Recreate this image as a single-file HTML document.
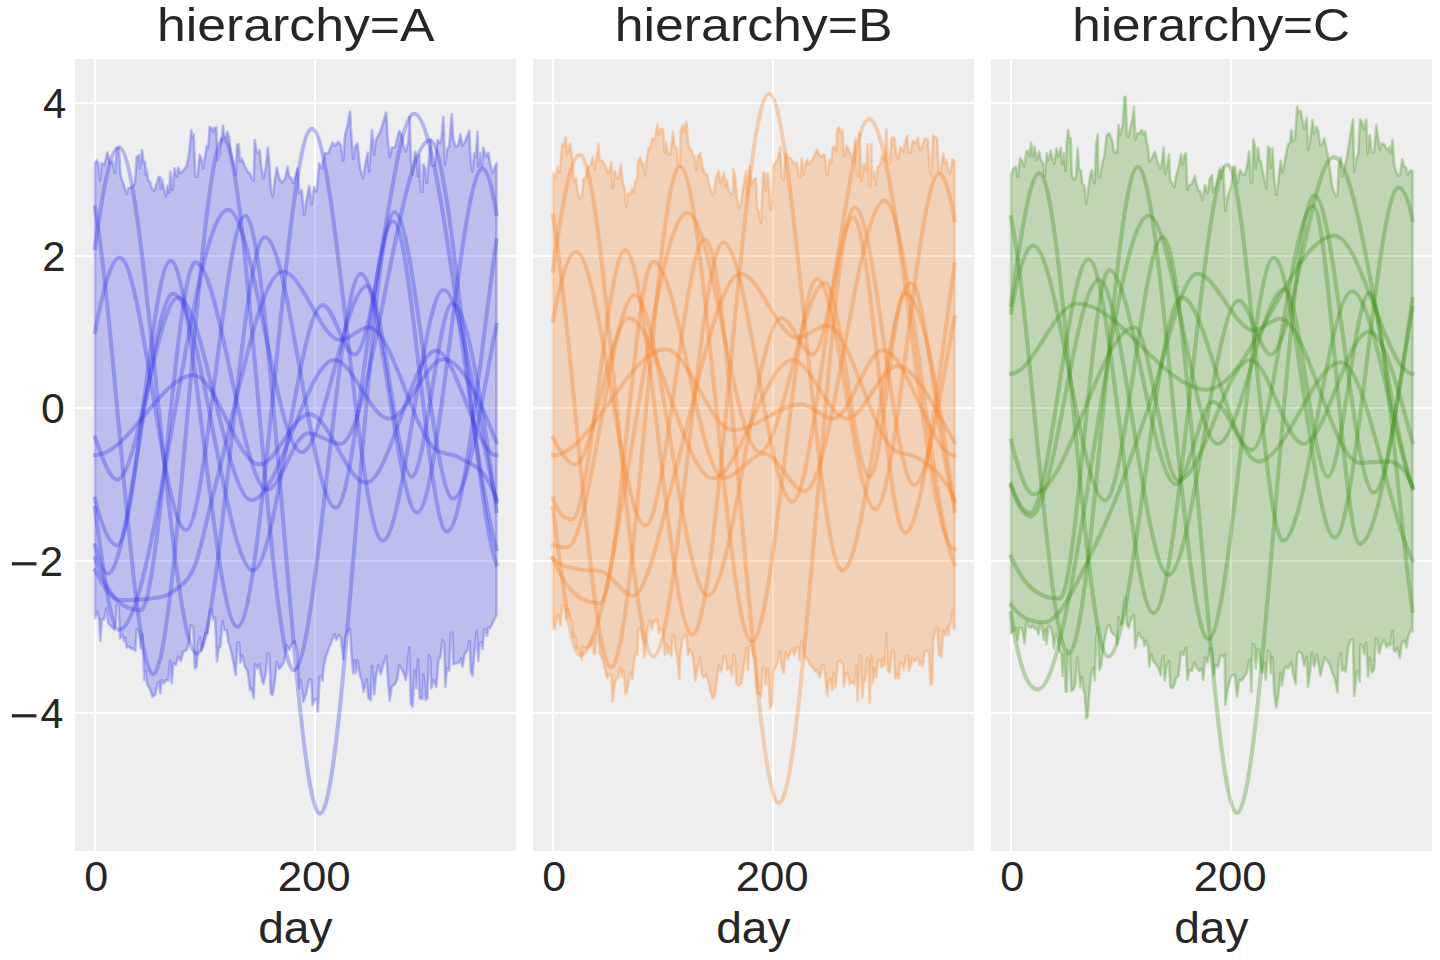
<!DOCTYPE html><html><head><meta charset="utf-8"><title>chart</title><style>html,body{margin:0;padding:0;background:#fff}svg{display:block}text{font-family:"Liberation Sans",sans-serif;fill:#262626}</style></head><body>
<svg width="1440" height="960" viewBox="0 0 1440 960">
<rect width="1440" height="960" fill="#fff"/>
<g>
<rect x="75" y="59" width="441" height="792" fill="#eeeeee"/>
<path d="M95.0 59 V851M315.0 59 V851M75 103 H516M75 256 H516M75 408 H516M75 561 H516M75 713 H516" stroke="#fff" stroke-width="2.2" fill="none"/>
<path d="M95.0 163.3L96.7 160.0L98.3 163.3L100.0 180.8L101.7 163.3L104.2 165.0L107.5 152.5L110.0 163.3L112.5 161.7L115.0 173.3L116.7 148.3L118.7 148.3L120.8 176.7L123.3 183.3L126.7 194.2L128.3 188.3L132.5 186.7L135.0 183.3L136.7 156.7L139.2 155.0L140.0 168.3L142.0 150.0L143.7 163.3L145.0 161.7L145.8 175.0L146.7 170.0L148.3 180.8L150.0 181.7L151.7 188.3L154.2 190.8L156.7 183.3L158.3 177.5L160.0 176.7L160.8 189.2L162.0 179.2L164.2 190.0L165.8 196.7L167.5 185.8L169.2 192.5L170.3 171.7L172.5 190.0L174.5 168.3L176.7 176.7L178.3 167.5L180.0 173.3L183.3 170.8L186.7 165.8L189.2 153.3L191.2 130.0L192.5 137.5L193.7 134.2L195.3 176.7L197.5 176.7L199.7 155.0L201.7 160.0L203.3 168.3L206.7 145.8L208.3 147.5L209.7 126.7L211.7 128.3L213.0 131.7L214.2 128.3L216.3 127.5L217.5 160.0L219.2 156.7L221.7 138.3L223.0 125.8L224.2 135.0L225.8 137.5L227.5 131.7L229.2 138.3L230.8 151.7L235.8 175.0L237.0 145.0L238.7 144.2L240.0 161.7L241.7 158.3L245.0 166.7L248.3 172.5L250.0 173.3L251.7 178.3L253.7 180.8L254.7 140.0L256.7 151.7L258.3 153.3L259.7 150.0L261.3 166.7L263.3 178.3L265.8 168.3L267.8 147.5L269.2 161.7L270.8 188.3L272.5 196.7L274.2 185.0L276.7 167.5L279.2 178.3L281.7 182.5L285.0 179.2L287.5 166.7L289.2 176.7L290.8 177.5L293.3 183.3L297.5 168.3L299.2 193.3L301.7 190.0L304.2 215.0L306.7 199.2L309.2 185.8L311.7 205.0L314.2 186.7L316.7 191.7L319.2 163.3L321.7 168.3L325.0 153.3L328.3 153.3L332.5 142.5L335.0 145.8L338.3 141.7L340.8 145.0L343.3 160.8L345.0 135.0L347.5 125.8L350.0 111.7L351.7 140.0L353.3 159.2L355.0 146.7L357.5 143.3L360.0 168.3L363.0 178.3L365.8 161.7L367.8 152.5L369.2 171.7L372.0 130.0L374.2 155.0L375.8 140.0L380.0 132.5L386.2 112.5L387.5 136.7L389.7 157.5L391.7 147.5L395.0 147.5L399.2 130.8L401.7 135.0L403.3 145.0L405.8 151.7L408.3 141.7L409.7 116.7L410.8 156.7L412.5 175.0L415.0 151.7L416.7 156.7L418.0 176.7L419.2 155.0L420.8 191.7L422.5 191.7L423.3 164.2L425.0 168.3L426.7 183.3L428.3 166.7L430.8 140.0L431.7 165.8L435.0 165.0L437.5 140.0L440.0 143.3L441.7 136.7L443.3 116.7L445.0 165.0L447.5 148.3L449.2 146.7L451.7 114.2L453.3 140.0L455.8 146.7L458.3 145.0L460.3 134.2L462.5 145.8L465.0 141.7L469.2 130.8L470.8 161.7L472.5 171.7L474.2 153.3L475.8 156.7L477.5 131.7L478.3 166.7L480.0 153.3L481.7 166.7L483.3 147.5L485.8 156.7L488.3 152.5L490.0 163.3L492.5 173.3L495.0 166.7L496.5 163.3L496.5 615.0L490.0 628.3L488.3 627.5L487.0 635.8L485.8 630.0L484.2 629.2L482.5 649.2L481.7 642.5L479.7 643.3L478.3 660.8L476.7 630.8L474.2 655.0L472.5 675.8L470.8 671.7L469.5 640.8L467.5 650.0L464.7 654.2L462.5 666.7L460.8 658.3L459.2 662.5L455.8 663.3L453.3 664.2L452.5 633.3L450.8 632.5L449.2 670.8L447.0 668.3L445.3 686.7L444.2 643.3L442.5 640.0L440.3 658.3L438.7 658.3L436.3 686.7L433.3 680.0L431.3 688.3L430.3 658.3L428.8 655.0L427.5 698.3L425.8 700.0L423.3 674.2L422.5 699.2L419.7 698.3L418.0 659.2L416.3 688.3L414.7 670.0L412.5 706.7L410.8 703.3L409.2 647.5L407.0 671.7L405.8 680.0L404.2 675.0L402.5 670.8L399.2 665.0L397.5 678.3L395.0 684.2L391.7 686.7L389.7 700.8L388.0 680.0L386.3 655.8L383.3 664.2L380.8 674.2L378.3 665.0L375.8 678.3L374.2 694.2L372.0 665.8L370.8 700.0L368.3 698.3L366.7 679.2L363.7 691.7L361.7 680.0L360.0 675.8L357.5 660.0L355.8 673.3L354.7 660.0L353.3 673.3L351.7 656.7L350.0 629.2L347.5 630.8L345.0 637.5L343.3 659.2L340.8 637.5L338.7 635.0L336.3 640.0L334.5 634.2L332.5 639.2L329.2 647.5L325.8 656.7L323.7 666.7L322.5 680.8L321.3 675.8L319.7 676.7L317.8 711.7L316.7 699.2L314.7 699.2L312.5 705.0L311.3 680.0L309.2 679.2L305.8 695.0L303.3 701.7L300.8 680.0L299.2 688.3L297.5 651.7L294.7 641.7L291.7 644.2L289.2 650.0L286.7 645.0L284.2 661.7L281.7 665.8L279.2 669.2L276.7 661.7L275.0 680.0L272.5 695.0L270.8 693.3L269.2 654.2L267.5 653.3L265.8 673.3L263.3 684.2L261.7 678.3L259.2 664.2L257.5 668.3L255.0 664.2L253.7 698.3L251.7 688.3L250.0 690.0L247.5 670.8L245.0 666.7L242.5 655.8L240.3 662.5L239.2 643.3L237.5 642.5L235.8 675.0L233.3 661.7L230.8 650.0L228.3 641.7L226.7 630.0L224.2 630.0L222.5 620.8L220.3 646.7L218.7 648.3L217.0 661.7L215.0 617.5L213.3 620.0L211.7 609.2L210.0 610.0L207.5 633.3L205.3 633.3L203.3 644.2L201.3 650.8L200.0 637.5L198.3 643.3L196.7 666.7L194.7 668.3L193.3 626.7L190.8 625.0L189.2 641.7L186.7 650.0L183.3 651.7L180.8 660.8L178.3 656.7L175.8 665.0L173.3 663.3L171.7 683.3L170.0 660.8L168.3 680.8L165.8 680.0L164.2 683.3L161.7 680.0L160.3 693.3L159.2 681.7L157.5 684.2L155.0 695.0L152.5 696.7L150.8 691.7L149.2 687.5L147.0 684.2L145.8 670.8L144.2 680.0L142.5 634.2L140.8 648.3L139.2 631.7L136.7 629.2L135.3 650.8L133.3 648.3L131.7 649.2L129.2 646.7L126.7 647.5L125.0 637.5L123.7 640.8L122.5 635.0L120.0 638.3L118.7 606.7L116.7 605.0L115.8 621.7L114.2 630.0L110.8 625.8L108.3 623.3L106.3 608.3L104.2 619.2L101.7 620.0L100.3 640.8L99.2 620.0L97.5 611.7L95.0 618.3Z" fill="#2a2eec" fill-opacity="0.25" stroke="#2a2eec" stroke-opacity="0.28" stroke-width="2.6" stroke-linejoin="round"/>
<g fill="none" stroke="#2a2eec" stroke-opacity="0.3" stroke-width="4.1" stroke-linecap="square">
<path d="M95.0 207.5C114.4 318.7 133.7 674.1 153.1 674.1C176.5 674.1 200.0 138.8 223.5 138.8C246.9 138.8 270.3 670.3 293.8 670.3C316.2 670.3 338.6 273.8 361.0 273.8C379.7 273.8 398.5 512.5 417.2 512.5C439.0 512.5 460.9 168.6 482.8 168.6C487.3 168.6 491.9 185.1 496.5 214.3"/>
<path d="M95.0 247.9C102.9 189.7 110.8 147.2 118.8 147.2C144.8 147.2 170.8 653.5 196.9 653.5C219.6 653.5 242.3 237.2 265.0 237.2C288.6 237.2 312.2 507.9 335.9 507.9C355.0 507.9 374.0 221.2 393.1 221.2C411.0 221.2 429.0 531.5 446.9 531.5C463.4 531.5 480.0 357.1 496.5 240.2"/>
<path d="M95.0 498.7C102.4 528.8 109.8 545.2 117.2 545.2C134.9 545.2 152.6 260.8 170.4 260.8C192.7 260.8 215.1 626.8 237.5 626.8C262.3 626.8 287.1 128.9 311.9 128.9C335.5 128.9 359.1 540.7 382.8 540.7C403.1 540.7 423.4 289.8 443.7 289.8C461.3 289.8 478.9 432.8 496.5 501.8"/>
<path d="M95.0 455.3C127.9 455.3 160.9 375.2 193.8 375.2C215.6 375.2 237.5 464.4 259.3 464.4C276.1 464.4 292.8 414.1 309.5 414.1C328.3 414.1 347.2 482.7 366.0 482.7C389.4 482.7 412.7 350.8 436.0 350.8C456.2 350.8 476.3 455.3 496.5 455.3"/>
<path d="M95.0 558.2C110.2 603.1 125.4 610.1 140.7 610.1C158.9 610.1 177.1 262.4 195.3 262.4C219.3 262.4 243.2 489.6 267.1 489.6C280.7 489.6 294.3 433.2 307.9 433.2C318.8 433.2 329.7 443.8 340.6 443.8C370.3 443.8 400.0 140.4 429.7 140.4C452.0 140.4 474.2 506.3 496.5 564.3"/>
<path d="M95.0 331.8C103.2 289.3 111.4 257.8 119.6 257.8C141.8 257.8 163.9 530.0 186.0 530.0C205.7 530.0 225.5 215.8 245.3 215.8C270.2 215.8 295.1 813.7 320.0 813.7C344.8 813.7 369.6 212.0 394.4 212.0C414.0 212.0 433.6 498.7 453.2 498.7C467.6 498.7 482.1 396.6 496.5 324.9"/>
<path d="M95.0 507.9C102.9 568.3 110.8 629.9 118.8 629.9C155.2 629.9 191.7 209.8 228.1 209.8C252.6 209.8 277.1 452.2 301.6 452.2C323.4 452.2 345.3 286.0 367.1 286.0C382.0 286.0 396.9 476.6 411.8 476.6C425.3 476.6 438.7 303.5 452.2 303.5C466.9 303.5 481.7 399.3 496.5 510.9"/>
<path d="M95.0 545.2C99.3 562.0 103.5 573.5 107.8 573.5C129.7 573.5 151.5 293.6 173.4 293.6C200.0 293.6 226.5 570.4 253.1 570.4C276.3 570.4 299.5 305.1 322.7 305.1C333.3 305.1 344.0 354.6 354.6 354.6C374.4 354.6 394.2 113.7 414.0 113.7C441.5 113.7 469.0 451.4 496.5 549.1"/>
<path d="M95.0 437.7C102.4 457.4 109.8 479.7 117.2 479.7C137.5 479.7 157.8 297.4 178.2 297.4C202.6 297.4 227.1 500.3 251.5 500.3C279.1 500.3 306.8 360.0 334.4 360.0C352.6 360.0 370.8 418.7 389.0 418.7C407.3 418.7 425.5 359.2 443.7 359.2C461.3 359.2 478.9 398.0 496.5 442.3"/>
<path d="M95.0 570.4C103.3 586.4 111.6 600.1 120.0 600.1C130.0 600.1 140.0 599.9 150.0 598.6C158.3 597.5 166.6 597.3 175.0 590.2C181.6 584.6 188.3 582.5 195.0 565.1C201.3 548.7 207.5 515.3 213.8 491.9C236.8 405.8 259.8 271.5 282.8 271.5C301.9 271.5 321.1 340.1 340.3 340.1C349.8 340.1 359.3 327.2 368.8 327.2C391.2 327.2 413.6 434.0 436.0 449.9C443.7 455.4 451.4 452.7 459.1 457.6C471.6 465.4 484.0 463.8 496.5 499.5"/>
</g>
</g>
<g>
<rect x="533" y="59" width="441" height="792" fill="#eeeeee"/>
<path d="M553.0 59 V851M773.0 59 V851M533 103 H974M533 256 H974M533 408 H974M533 561 H974M533 713 H974" stroke="#fff" stroke-width="2.2" fill="none"/>
<path d="M553.0 172.5L555.5 178.3L558.0 166.7L559.7 172.5L562.2 144.2L563.8 146.7L565.5 136.7L567.2 154.2L570.0 143.3L572.2 158.3L573.8 181.7L576.0 178.3L578.0 193.3L580.0 199.2L582.2 195.0L583.3 179.2L585.5 178.3L588.0 166.7L590.5 165.8L592.7 156.7L594.7 169.2L597.2 153.3L598.5 144.2L599.7 160.0L602.2 160.8L605.5 165.8L608.0 173.3L609.7 170.0L611.3 161.7L612.7 188.3L614.7 170.8L617.2 178.3L618.8 178.3L620.8 164.2L623.0 184.2L624.7 188.3L626.3 206.7L628.0 193.3L630.5 194.2L632.2 188.3L633.8 193.3L635.0 181.7L637.2 179.2L638.0 162.5L640.0 157.5L642.2 165.0L643.3 163.3L644.7 175.8L647.2 156.7L648.3 148.3L650.5 147.5L652.2 138.3L654.7 139.2L657.5 124.2L658.8 135.0L660.5 129.2L663.0 129.2L664.7 153.3L666.0 141.7L668.0 154.2L670.5 154.2L673.0 131.7L674.7 146.7L676.7 148.3L678.3 165.8L679.7 166.7L680.8 130.0L683.0 125.0L683.8 131.7L686.3 121.7L687.7 137.5L688.8 146.7L691.3 150.0L693.3 155.8L694.7 156.7L696.0 170.8L698.0 155.8L700.2 153.3L702.2 166.7L704.7 173.3L707.2 175.0L709.7 186.7L712.2 195.0L713.8 193.3L716.3 176.7L718.8 170.8L720.5 183.3L722.2 178.3L724.2 172.5L725.5 186.7L726.7 180.0L728.8 190.0L731.3 194.2L733.0 193.3L733.5 169.2L735.5 180.0L737.2 200.0L739.3 208.3L741.3 202.5L743.3 186.7L746.3 170.8L747.7 195.0L749.7 166.7L751.3 185.0L753.0 180.0L756.0 178.3L757.2 208.3L758.8 211.7L761.0 223.3L763.0 172.5L765.0 173.3L765.8 190.8L768.0 173.3L770.5 210.0L772.2 204.2L773.3 165.0L775.5 163.3L778.0 158.3L780.2 146.7L781.7 176.7L783.8 180.0L785.5 153.3L788.0 157.5L790.5 158.3L793.0 161.7L795.0 165.0L796.7 162.5L798.8 175.8L800.5 176.7L801.7 158.3L803.8 174.2L805.5 165.0L807.2 159.2L808.8 164.2L811.3 161.7L813.8 156.7L816.3 150.8L817.2 149.2L818.8 155.0L821.3 156.7L823.0 155.0L825.0 155.8L826.3 172.5L827.7 175.0L829.3 159.2L831.3 163.3L832.7 147.5L835.5 146.7L836.3 151.7L837.2 129.2L839.3 127.5L840.5 133.3L842.5 130.0L843.8 155.8L845.5 155.0L846.7 145.8L848.8 150.0L851.3 155.8L852.7 162.5L855.5 138.3L856.7 175.8L858.3 176.7L859.7 133.3L861.3 181.7L863.0 170.8L864.3 163.3L866.0 170.8L867.7 144.2L869.3 186.7L870.5 187.5L871.3 144.2L872.2 178.3L874.7 171.7L876.3 185.8L877.7 166.7L880.5 164.2L881.7 155.8L884.7 159.2L886.3 129.2L887.7 161.7L889.7 163.3L891.7 137.5L894.3 137.5L896.3 153.3L898.0 159.2L900.5 146.7L903.0 151.7L905.0 142.5L907.2 135.8L908.3 152.5L910.5 152.5L912.7 140.8L915.5 143.3L918.0 138.3L919.7 149.2L921.3 150.0L924.7 138.3L928.0 140.0L929.7 170.0L931.3 175.8L933.0 135.8L935.5 137.5L937.2 138.3L938.8 171.7L940.5 173.3L943.3 153.3L944.7 163.3L946.3 160.0L948.3 170.0L950.0 173.3L952.7 159.2L954.3 161.7L954.5 173.3L954.5 629.2L953.8 628.3L952.7 610.0L951.3 622.5L949.7 624.2L948.3 635.0L947.2 627.5L945.5 635.8L943.3 630.8L941.3 656.7L938.8 654.2L937.7 628.3L936.3 627.5L933.3 638.3L932.2 683.3L930.5 685.0L929.3 656.7L928.0 650.0L924.7 651.7L922.7 665.8L921.3 661.7L919.7 665.0L918.0 657.5L914.7 661.7L912.2 658.3L911.0 665.0L908.8 670.8L908.0 655.8L906.3 655.8L903.8 670.0L902.2 663.3L900.0 662.5L898.8 678.3L897.2 674.2L895.5 678.3L893.8 651.7L892.2 650.0L889.7 672.5L887.7 670.0L886.3 632.5L884.7 665.8L883.0 658.3L881.7 667.5L880.5 660.0L877.7 660.8L876.3 677.5L874.7 668.3L872.7 683.3L871.3 655.8L869.7 702.5L868.3 659.2L867.2 658.3L865.0 681.7L863.8 680.0L862.2 697.5L861.0 655.8L859.7 655.0L857.7 700.8L856.0 665.8L854.7 684.2L851.3 681.7L849.7 684.2L848.0 674.2L846.3 673.3L843.8 686.7L843.0 665.0L840.5 660.8L838.0 661.7L835.5 687.5L833.8 672.5L832.2 690.0L831.0 679.2L828.8 680.0L827.2 695.8L825.0 673.3L823.8 665.8L822.2 665.0L819.7 677.5L817.2 670.0L815.5 671.7L813.0 667.5L810.5 665.8L807.2 658.3L804.7 657.5L803.0 643.3L801.3 641.7L799.7 660.8L798.8 648.3L796.7 647.5L794.3 655.0L792.2 648.3L790.5 651.7L787.7 659.2L785.5 651.7L783.8 673.3L781.7 666.7L780.0 650.8L778.0 661.7L775.5 667.5L773.3 671.7L772.2 705.0L770.0 708.3L768.0 668.3L765.5 685.0L764.7 667.5L763.0 666.7L761.0 696.7L759.3 694.2L757.2 693.3L755.5 660.0L753.0 655.0L751.3 645.8L749.3 646.7L748.0 670.0L746.3 648.3L743.8 666.7L741.3 683.3L738.8 685.8L736.3 683.3L734.7 656.7L733.5 654.2L732.2 675.8L729.7 666.7L727.2 670.0L725.5 655.8L723.8 656.7L721.3 671.7L718.8 665.8L716.3 685.0L714.7 696.7L712.7 698.3L710.5 691.7L708.8 683.3L706.3 675.0L703.8 677.5L701.7 674.2L700.2 657.5L697.2 669.2L695.5 680.8L693.8 665.0L692.2 653.3L689.7 649.2L688.0 655.0L686.3 634.2L684.7 635.8L682.2 640.0L680.5 654.2L679.2 679.2L677.2 655.0L675.5 650.0L674.3 635.8L672.7 635.0L671.3 655.8L669.7 646.7L668.0 653.3L666.3 643.3L664.7 655.0L663.0 630.0L660.5 629.2L658.8 633.3L657.2 619.2L653.3 621.7L651.7 629.2L650.0 620.0L648.0 627.5L646.3 639.2L644.3 657.5L643.0 642.5L640.5 627.5L638.3 629.2L637.2 655.0L635.5 652.5L633.8 663.3L632.2 679.2L630.5 672.5L628.8 680.0L627.2 691.7L625.5 694.2L623.8 670.8L622.2 676.7L620.5 666.7L618.8 676.7L616.3 679.2L614.7 683.3L612.7 701.7L611.3 675.0L608.8 674.2L607.2 678.3L605.5 670.8L603.8 664.2L601.3 656.7L599.7 653.3L598.3 634.2L596.3 633.3L595.5 653.3L593.8 654.2L592.2 637.5L590.5 645.8L588.0 646.7L585.5 649.2L583.0 646.7L581.8 660.0L580.5 653.3L578.8 649.2L576.7 647.5L575.5 636.7L573.3 637.5L572.2 621.7L570.5 619.2L568.0 609.2L566.0 620.0L564.7 605.8L562.2 605.0L560.5 625.8L558.3 614.2L556.3 620.0L554.7 629.2L553.0 628.3Z" fill="#fa7c17" fill-opacity="0.25" stroke="#fa7c17" stroke-opacity="0.28" stroke-width="2.6" stroke-linejoin="round"/>
<g fill="none" stroke="#fa7c17" stroke-opacity="0.3" stroke-width="4.1" stroke-linecap="square">
<path d="M553.0 215.8C572.4 325.9 591.7 667.2 611.1 667.2C634.0 667.2 656.9 166.3 679.8 166.3C703.8 166.3 727.8 641.3 751.8 641.3C773.6 641.3 795.5 279.1 817.3 279.1C836.6 279.1 855.9 509.4 875.2 509.4C896.5 509.4 917.9 173.9 939.2 173.9C944.3 173.9 949.4 189.5 954.5 220.4"/>
<path d="M553.0 270.8C561.9 205.7 570.9 154.9 579.8 154.9C604.3 154.9 628.8 656.6 653.3 656.6C676.8 656.6 700.2 242.5 723.6 242.5C746.5 242.5 769.4 501.8 792.4 501.8C812.7 501.8 833.0 217.4 853.3 217.4C870.5 217.4 887.7 533.0 904.9 533.0C921.4 533.0 938.0 382.2 954.5 264.6"/>
<path d="M553.0 498.7C559.3 516.6 565.7 519.3 572.0 519.3C589.7 519.3 607.5 250.2 625.2 250.2C647.6 250.2 670.0 634.5 692.4 634.5C717.9 634.5 743.4 93.8 768.9 93.8C793.4 93.8 817.9 570.4 842.4 570.4C865.3 570.4 888.2 282.9 911.0 282.9C925.5 282.9 940.0 467.1 954.5 501.8"/>
<path d="M553.0 455.3C590.6 455.3 628.2 349.3 665.9 349.3C688.2 349.3 710.6 430.1 733.0 430.1C755.8 430.1 778.7 404.2 801.6 404.2C812.0 404.2 822.5 418.7 833.0 418.7C849.6 418.7 866.3 350.1 883.0 350.1C906.8 350.1 930.7 455.3 954.5 455.3"/>
<path d="M553.0 558.2C568.7 597.2 584.5 603.2 600.2 603.2C617.9 603.2 635.6 261.6 653.3 261.6C676.8 261.6 700.2 478.1 723.6 478.1C737.1 478.1 750.7 453.8 764.2 453.8C777.8 453.8 791.3 491.1 804.9 491.1C831.4 491.1 858.0 200.6 884.5 200.6C907.9 200.6 931.2 514.3 954.5 564.3"/>
<path d="M553.0 320.3C560.7 279.7 568.4 251.7 576.1 251.7C599.2 251.7 622.4 525.4 645.5 525.4C665.3 525.4 685.1 239.5 704.9 239.5C729.6 239.5 754.3 803.0 779.0 803.0C804.3 803.0 829.6 207.5 854.8 207.5C874.6 207.5 894.4 485.0 914.2 485.0C927.7 485.0 941.1 386.7 954.5 317.3"/>
<path d="M553.0 507.9C561.9 577.0 570.9 655.0 579.8 655.0C615.8 655.0 651.7 212.8 687.6 212.8C711.6 212.8 735.6 452.2 759.6 452.2C781.4 452.2 803.3 282.9 825.1 282.9C840.0 282.9 854.9 476.6 869.8 476.6C881.5 476.6 893.2 293.6 904.9 293.6C921.4 293.6 938.0 384.1 954.5 510.9"/>
<path d="M553.0 545.2C557.8 547.2 562.6 547.5 567.4 547.5C589.8 547.5 612.2 295.1 634.6 295.1C659.1 295.1 683.5 595.6 708.0 595.6C732.5 595.6 757.0 318.0 781.5 318.0C791.8 318.0 802.2 354.6 812.6 354.6C831.4 354.6 850.1 119.0 868.9 119.0C897.4 119.0 926.0 549.1 954.5 549.1"/>
<path d="M553.0 437.7C560.4 451.5 567.8 464.4 575.2 464.4C592.9 464.4 610.6 318.0 628.4 318.0C656.5 318.0 684.6 478.1 712.7 478.1C739.3 478.1 765.8 360.0 792.4 360.0C810.6 360.0 828.8 418.7 847.0 418.7C863.7 418.7 880.4 366.1 897.1 366.1C916.2 366.1 935.4 410.1 954.5 442.3"/>
<path d="M553.0 558.2C561.1 567.5 569.1 566.6 577.2 568.9C585.6 571.3 594.1 569.3 602.5 571.9C612.7 575.1 622.8 595.6 633.0 595.6C640.0 595.6 647.1 577.0 654.2 552.9C660.8 530.4 667.4 500.8 674.0 476.6C696.3 395.1 718.5 273.8 740.8 273.8C759.5 273.8 778.3 337.9 797.1 337.9C807.0 337.9 816.9 325.6 826.8 325.6C849.2 325.6 871.6 433.8 894.0 449.9C901.7 455.5 909.4 452.7 917.1 457.6C929.6 465.4 942.0 472.3 954.5 499.5"/>
</g>
</g>
<g>
<rect x="991" y="59" width="441" height="792" fill="#eeeeee"/>
<path d="M1011.0 59 V851M1231.0 59 V851M991 103 H1432M991 256 H1432M991 408 H1432M991 561 H1432M991 713 H1432" stroke="#fff" stroke-width="2.2" fill="none"/>
<path d="M1011.0 174.2L1013.5 168.3L1016.0 166.7L1017.7 176.7L1020.2 158.3L1022.7 161.7L1024.3 166.7L1026.3 151.7L1028.5 150.8L1029.7 156.7L1031.0 142.5L1032.7 156.7L1034.3 146.7L1036.8 160.0L1039.3 151.7L1041.0 160.0L1043.0 163.3L1044.7 176.7L1046.8 153.3L1048.5 160.0L1050.7 150.8L1052.3 157.5L1054.3 164.2L1056.3 148.3L1058.5 156.7L1060.7 147.5L1062.3 165.0L1064.0 153.3L1065.7 170.8L1066.8 141.7L1068.2 130.0L1069.3 137.5L1070.7 138.3L1071.8 175.0L1074.0 180.0L1076.0 176.7L1077.7 148.3L1079.0 169.2L1081.0 170.8L1082.3 183.3L1084.3 185.8L1086.3 204.2L1088.5 187.5L1090.2 175.8L1091.8 170.0L1093.0 179.2L1094.7 183.3L1096.0 145.0L1097.7 134.2L1098.5 176.7L1100.2 177.5L1102.3 163.3L1104.3 155.8L1106.8 135.0L1109.3 133.3L1110.7 137.5L1112.3 140.8L1114.0 152.5L1116.0 150.8L1117.2 153.3L1118.5 125.0L1120.2 135.0L1122.7 125.0L1124.3 97.5L1125.7 96.7L1126.8 133.3L1128.0 137.5L1130.2 128.3L1132.7 118.3L1134.0 106.7L1135.2 140.0L1136.8 133.3L1139.3 133.3L1141.8 130.0L1143.5 134.2L1145.2 131.7L1146.8 143.3L1148.0 146.7L1149.3 161.7L1151.8 158.3L1154.8 151.7L1157.7 162.5L1160.2 168.3L1161.8 163.3L1163.5 147.5L1165.2 174.2L1167.7 163.3L1169.0 154.2L1170.2 180.0L1172.7 184.2L1174.3 187.5L1176.0 176.7L1178.5 167.5L1181.0 154.2L1182.7 165.0L1184.3 155.8L1186.0 153.3L1187.3 190.0L1189.3 185.0L1191.8 184.2L1194.7 175.8L1196.8 185.0L1198.5 190.8L1200.0 190.8L1202.5 200.0L1205.0 185.0L1207.5 193.3L1209.7 179.2L1212.0 175.0L1213.3 192.5L1215.8 185.8L1219.7 168.3L1221.7 178.3L1223.3 166.7L1225.3 210.8L1227.5 196.7L1231.0 186.7L1233.3 166.7L1235.0 166.7L1237.5 183.3L1240.0 170.0L1242.5 174.2L1245.0 175.0L1246.7 167.5L1249.2 151.7L1250.8 183.3L1252.0 182.5L1253.3 139.2L1254.7 144.2L1255.8 168.3L1258.0 147.5L1259.7 161.7L1260.8 160.8L1262.5 170.8L1264.2 178.3L1266.3 188.3L1268.0 146.7L1269.7 148.3L1270.8 168.3L1272.5 148.3L1274.2 180.0L1276.3 195.0L1278.3 181.7L1280.5 160.8L1282.5 172.5L1285.0 160.0L1288.0 144.2L1290.0 142.5L1291.3 130.0L1293.0 141.7L1295.0 139.2L1297.2 106.7L1298.3 111.7L1300.8 110.8L1302.5 120.8L1304.2 129.2L1306.7 117.5L1308.3 150.0L1310.3 140.0L1312.5 120.0L1314.2 134.2L1316.7 126.7L1318.3 131.7L1320.3 145.8L1322.5 143.3L1324.2 138.3L1326.7 150.0L1329.2 163.3L1331.7 183.3L1333.3 190.0L1335.8 195.8L1337.5 195.0L1338.7 165.0L1340.8 157.5L1342.0 176.7L1344.2 170.0L1346.7 158.3L1349.2 143.3L1350.8 131.7L1353.0 119.2L1354.2 171.7L1356.7 158.3L1358.3 153.3L1360.0 119.2L1362.0 122.5L1364.2 130.0L1366.2 119.2L1367.5 154.2L1369.7 135.0L1371.7 152.5L1374.2 151.7L1376.3 125.0L1378.0 137.5L1380.0 150.0L1381.7 143.3L1384.2 144.2L1386.7 150.0L1389.2 147.5L1390.3 153.3L1392.5 140.0L1394.2 164.2L1395.8 170.8L1398.3 175.8L1400.0 175.0L1402.2 159.2L1404.2 166.7L1405.8 167.5L1407.5 175.0L1410.0 170.8L1412.0 170.8L1412.5 173.3L1412.5 631.7L1412.0 628.3L1410.3 630.8L1408.3 636.7L1406.3 647.5L1404.7 640.8L1402.2 641.7L1399.7 658.3L1397.5 647.5L1395.3 651.7L1393.7 650.0L1392.5 630.8L1390.3 645.8L1389.2 643.3L1386.7 647.5L1384.2 640.0L1381.7 644.2L1379.2 653.3L1377.5 640.0L1375.8 638.3L1374.2 669.2L1371.7 672.5L1369.7 657.5L1368.0 676.7L1366.2 642.5L1364.2 654.2L1362.5 645.8L1360.3 644.2L1359.7 681.7L1358.0 670.8L1356.7 672.5L1354.2 695.8L1353.0 639.2L1350.8 640.0L1348.3 645.8L1345.8 671.7L1344.2 668.3L1342.0 670.8L1340.8 653.3L1338.7 660.0L1337.5 692.5L1334.7 678.3L1332.5 673.3L1330.0 665.0L1327.5 660.8L1324.7 657.5L1322.5 666.7L1320.3 675.8L1318.7 665.0L1316.7 654.2L1314.2 666.7L1312.0 652.5L1310.0 673.3L1308.0 686.7L1306.7 656.7L1304.2 665.8L1302.0 654.2L1299.7 651.7L1297.2 653.3L1295.8 684.2L1293.0 674.2L1291.3 661.7L1288.3 668.3L1285.8 666.7L1284.2 670.0L1282.0 685.0L1280.5 673.3L1278.3 695.0L1276.3 707.5L1274.2 692.5L1272.5 656.7L1270.8 673.3L1269.7 651.7L1268.0 650.8L1265.8 680.0L1264.2 663.3L1262.0 673.3L1260.3 663.3L1259.2 650.0L1257.5 649.2L1255.8 668.3L1254.2 645.0L1252.5 644.2L1251.3 691.7L1250.3 660.0L1249.2 660.8L1246.7 673.3L1244.2 676.7L1241.7 680.8L1239.2 680.0L1237.0 696.7L1235.0 675.0L1232.5 675.0L1231.0 676.7L1227.5 690.0L1225.3 705.0L1224.7 654.2L1223.0 656.7L1220.8 655.0L1218.0 666.7L1215.8 665.0L1213.7 675.0L1211.7 650.0L1210.0 648.3L1207.5 662.5L1205.0 657.5L1203.3 680.0L1201.7 668.3L1200.0 670.0L1199.3 670.8L1196.8 668.3L1194.7 662.5L1191.8 670.8L1189.3 670.0L1187.3 680.0L1186.0 647.5L1183.5 655.0L1181.0 651.7L1178.5 675.8L1176.0 678.3L1174.3 685.0L1172.3 688.3L1170.2 686.7L1169.0 660.8L1166.8 665.0L1164.7 680.8L1163.5 655.8L1162.3 658.3L1160.7 675.0L1158.5 668.3L1156.0 664.2L1153.5 661.7L1151.3 654.2L1149.3 666.7L1148.0 646.7L1146.0 640.8L1144.3 645.8L1143.0 638.3L1141.0 637.5L1139.0 632.5L1136.8 638.3L1135.2 648.3L1134.0 615.0L1132.7 615.8L1131.0 620.0L1128.5 627.5L1126.8 625.0L1125.7 597.5L1124.3 598.3L1122.7 623.3L1120.2 625.0L1118.5 616.7L1117.3 644.2L1116.0 636.7L1113.5 634.2L1111.3 631.7L1109.3 625.0L1107.3 626.7L1105.2 636.7L1102.7 652.5L1101.0 666.7L1099.3 670.0L1097.7 628.3L1096.3 636.7L1094.7 680.0L1093.5 668.3L1091.3 673.3L1089.3 693.3L1087.7 716.7L1086.3 718.3L1084.7 694.2L1083.5 689.2L1081.8 676.7L1080.2 687.5L1079.0 673.3L1077.3 657.5L1075.2 685.0L1073.0 690.0L1071.3 690.8L1069.7 651.7L1068.0 650.0L1066.8 691.7L1065.7 691.7L1064.0 654.2L1062.7 675.8L1061.3 652.5L1059.3 651.7L1057.3 636.7L1055.7 634.2L1054.0 648.3L1052.7 636.7L1051.0 627.5L1048.5 625.8L1046.5 644.2L1045.2 629.2L1044.0 640.0L1041.8 626.7L1040.2 623.3L1038.5 634.2L1036.8 628.3L1035.2 629.2L1032.7 625.8L1031.0 627.5L1028.5 626.7L1026.3 621.7L1024.7 643.3L1023.5 636.7L1021.8 628.3L1019.3 627.5L1017.7 640.0L1016.0 627.5L1013.5 630.8L1011.0 633.3Z" fill="#328c06" fill-opacity="0.25" stroke="#328c06" stroke-opacity="0.28" stroke-width="2.6" stroke-linejoin="round"/>
<g fill="none" stroke="#328c06" stroke-opacity="0.3" stroke-width="4.1" stroke-linecap="square">
<path d="M1011.0 217.4C1030.2 307.9 1049.4 653.5 1068.5 653.5C1091.6 653.5 1114.7 167.0 1137.8 167.0C1161.3 167.0 1184.8 639.0 1208.2 639.0C1230.1 639.0 1251.9 257.8 1273.8 257.8C1294.1 257.8 1314.4 537.6 1334.7 537.6C1356.1 537.6 1377.4 187.6 1398.8 187.6C1403.3 187.6 1407.9 197.4 1412.5 220.4"/>
<path d="M1011.0 305.1C1020.5 237.6 1029.9 173.2 1039.4 173.2C1062.3 173.2 1085.3 656.6 1108.2 656.6C1132.7 656.6 1157.2 297.4 1181.6 297.4C1205.0 297.4 1228.5 449.9 1251.9 449.9C1272.2 449.9 1292.6 205.9 1313.0 205.9C1328.5 205.9 1344.1 543.7 1359.7 543.7C1377.3 543.7 1394.9 422.2 1412.5 299.0"/>
<path d="M1011.0 484.2C1017.3 502.6 1023.7 512.5 1030.0 512.5C1049.5 512.5 1069.0 259.3 1088.5 259.3C1110.2 259.3 1131.8 613.1 1153.5 613.1C1178.2 613.1 1202.9 164.8 1227.6 164.8C1246.1 164.8 1264.6 540.7 1283.1 540.7C1306.1 540.7 1329.0 291.3 1352.0 291.3C1372.2 291.3 1392.3 434.7 1412.5 488.1"/>
<path d="M1011.0 373.7C1033.0 373.7 1054.9 303.5 1076.9 303.5C1120.2 303.5 1163.5 389.7 1206.8 389.7C1249.4 389.7 1292.1 235.7 1334.7 235.7C1360.7 235.7 1386.6 373.7 1412.5 373.7"/>
<path d="M1011.0 556.7C1027.2 593.0 1043.5 598.6 1059.7 598.6C1076.2 598.6 1092.7 270.0 1109.1 270.0C1131.4 270.0 1153.7 484.2 1176.0 484.2C1188.3 484.2 1200.6 401.9 1212.8 401.9C1228.1 401.9 1243.3 461.4 1258.5 461.4C1286.0 461.4 1313.5 362.2 1341.0 362.2C1364.8 362.2 1388.7 512.0 1412.5 560.5"/>
<path d="M1011.0 312.7C1018.4 271.1 1025.8 245.6 1033.2 245.6C1057.2 245.6 1081.1 500.3 1105.0 500.3C1124.3 500.3 1143.6 237.2 1162.9 237.2C1187.6 237.2 1212.3 812.9 1237.0 812.9C1262.8 812.9 1288.6 195.3 1314.4 195.3C1334.2 195.3 1354.0 492.6 1373.8 492.6C1386.7 492.6 1399.6 378.4 1412.5 308.1"/>
<path d="M1011.0 613.1C1019.9 672.5 1028.7 689.4 1037.6 689.4C1074.7 689.4 1111.8 215.8 1148.8 215.8C1171.7 215.8 1194.7 443.8 1217.6 443.8C1240.0 443.8 1262.4 289.1 1284.8 289.1C1299.1 289.1 1313.5 476.6 1327.8 476.6C1341.6 476.6 1355.4 292.9 1369.2 292.9C1383.6 292.9 1398.1 512.8 1412.5 610.8"/>
<path d="M1011.0 485.8C1017.6 506.3 1024.2 516.3 1030.8 516.3C1053.5 516.3 1076.1 279.9 1098.8 279.9C1122.0 279.9 1145.3 575.0 1168.5 575.0C1192.0 575.0 1215.4 300.5 1238.8 300.5C1249.4 300.5 1260.0 354.6 1270.6 354.6C1291.6 354.6 1312.6 157.1 1333.6 157.1C1359.9 157.1 1386.2 410.2 1412.5 488.1"/>
<path d="M1011.0 440.8C1018.4 468.8 1025.8 494.2 1033.2 494.2C1067.1 494.2 1100.9 327.2 1134.8 327.2C1149.2 327.2 1163.7 480.4 1178.2 480.4C1202.3 480.4 1226.3 360.0 1250.4 360.0C1268.1 360.0 1285.8 443.8 1303.5 443.8C1325.3 443.8 1347.2 331.8 1369.0 331.8C1383.5 331.8 1398.0 388.2 1412.5 442.3"/>
<path d="M1011.0 604.7C1022.0 619.9 1033.0 622.3 1044.0 622.3C1057.6 622.3 1071.1 594.8 1084.7 567.4C1095.0 546.6 1105.2 525.1 1115.5 499.5C1126.1 473.2 1136.6 440.3 1147.2 411.1C1163.9 364.8 1180.5 273.8 1197.2 273.8C1216.0 273.8 1234.8 330.2 1253.5 330.2C1262.4 330.2 1271.2 318.8 1280.1 318.8C1306.6 318.8 1333.2 462.9 1359.7 462.9C1369.1 462.9 1378.5 461.4 1388.0 461.4C1396.1 461.4 1404.3 466.7 1412.5 485.8"/>
</g>
</g>
<text transform="translate(156.95,41.20) scale(1.1262,1)" font-size="45.96">hierarchy=A</text>
<text transform="translate(258.16,942.54) scale(1.0290,1)" font-size="44.79">day</text>
<text transform="translate(84.28,890.91) scale(1.0086,1)" font-size="42.76">0</text>
<text transform="translate(277.66,890.91) scale(1.0242,1)" font-size="42.76">200</text>
<text transform="translate(614.75,41.20) scale(1.1271,1)" font-size="45.96">hierarchy=B</text>
<text transform="translate(716.16,942.54) scale(1.0290,1)" font-size="44.79">day</text>
<text transform="translate(542.27,890.91) scale(1.0086,1)" font-size="42.76">0</text>
<text transform="translate(735.66,890.91) scale(1.0242,1)" font-size="42.76">200</text>
<text transform="translate(1072.18,41.20) scale(1.1162,1)" font-size="45.96">hierarchy=C</text>
<text transform="translate(1174.16,942.54) scale(1.0290,1)" font-size="44.79">day</text>
<text transform="translate(1000.27,890.91) scale(1.0086,1)" font-size="42.76">0</text>
<text transform="translate(1193.66,890.91) scale(1.0242,1)" font-size="42.76">200</text>
<text transform="translate(42.92,118.00) scale(0.9816,1)" font-size="42.52">4</text>
<text transform="translate(42.36,270.50) scale(0.9878,1)" font-size="42.43">2</text>
<text transform="translate(40.99,423.12) scale(1.0088,1)" font-size="42.34">0</text>
<text transform="translate(39.76,575.50) scale(0.9878,1)" font-size="42.43">2</text>
<rect x="11.9" y="562.20" width="24.6" height="3.2" fill="#262626"/>
<text transform="translate(40.47,728.00) scale(0.9700,1)" font-size="42.52">4</text>
<rect x="11.9" y="714.20" width="24.6" height="3.2" fill="#262626"/>
</svg></body></html>
